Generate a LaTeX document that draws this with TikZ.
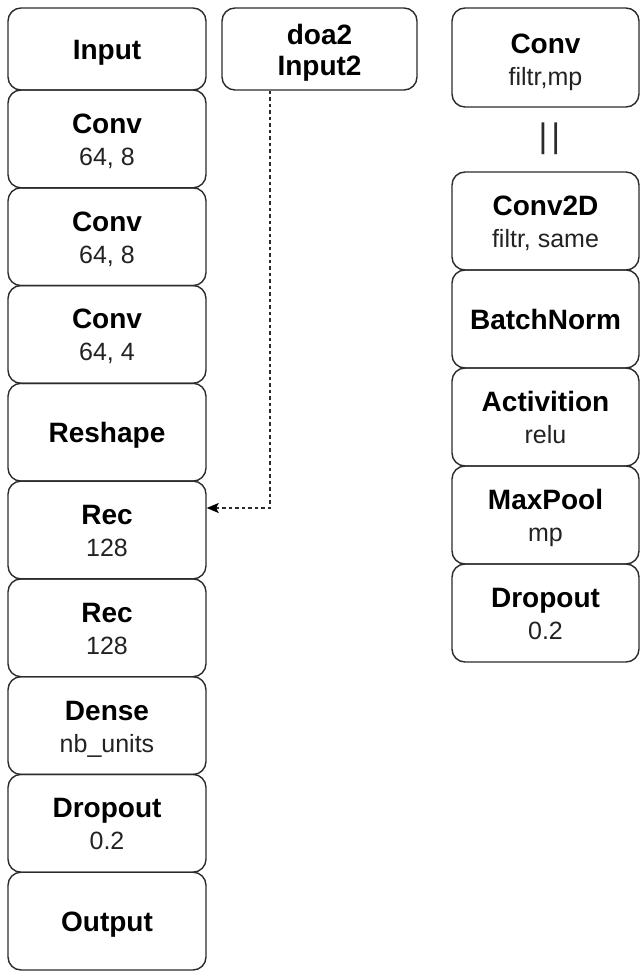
\documentclass[tikz,border=0pt]{standalone}
\usepackage{fontspec}
\setmainfont{Liberation Sans}
\usetikzlibrary{arrows.meta}
\definecolor{edge}{HTML}{2B2B2B}
\definecolor{subtext}{HTML}{222222}
\tikzset{
  layer/.style={draw=edge, line width=1.4pt, rounded corners=13pt, inner sep=0pt},
  leftcol/.style={layer, minimum width=198pt},
  rightcol/.style={layer, minimum width=187pt},
  title/.style={font=\fontsize{28}{32}\selectfont\bfseries, inner sep=0pt, anchor=base},
  sub/.style={font=\fontsize{25}{30}\selectfont, text=subtext, inner sep=0pt, anchor=base},
  link/.style={draw=edge, line width=1.3pt, dash pattern=on 3.5pt off 3pt,
    -{Stealth[length=12pt,width=10pt,inset=2.5pt,color=black]}},
}
\begin{document}
\begin{tikzpicture}[x=1pt,y=-1pt]
\useasboundingbox (0,0) rectangle (640,972);

% ---- main network (left column) ----
\node[leftcol, minimum height=82pt]   (input)   at (107,49)    {};
\node[leftcol, minimum height=97.8pt] (conv1)   at (107,138.9) {};
\node[leftcol, minimum height=97.8pt] (conv2)   at (107,236.7) {};
\node[leftcol, minimum height=97.8pt] (conv3)   at (107,334.4) {};
\node[leftcol, minimum height=97.8pt] (reshape) at (107,432.2) {};
\node[leftcol, minimum height=97.8pt] (rec1)    at (107,530)   {};
\node[leftcol, minimum height=97.8pt] (rec2)    at (107,627.8) {};
\node[leftcol, minimum height=97.8pt] (dense)   at (107,725.6) {};
\node[leftcol, minimum height=97.8pt] (drop)    at (107,823.3) {};
\node[leftcol, minimum height=97.8pt] (output)  at (107,921.1) {};

\node[title] (input-t)   at ([yshift=-10pt]input.center)   {Input};
\node[title] (conv1-t)   at ([yshift=5.5pt]conv1.center)   {Conv};
\node[sub]   (conv1-s)   at ([yshift=-26.5pt]conv1.center) {64, 8};
\node[title] (conv2-t)   at ([yshift=5.5pt]conv2.center)   {Conv};
\node[sub]   (conv2-s)   at ([yshift=-26.5pt]conv2.center) {64, 8};
\node[title] (conv3-t)   at ([yshift=5.5pt]conv3.center)   {Conv};
\node[sub]   (conv3-s)   at ([yshift=-26.5pt]conv3.center) {64, 4};
\node[title] (reshape-t) at ([yshift=-10pt]reshape.center) {Reshape};
\node[title] (rec1-t)    at ([yshift=5.5pt]rec1.center)    {Rec};
\node[sub]   (rec1-s)    at ([yshift=-26.5pt]rec1.center)  {128};
\node[title] (rec2-t)    at ([yshift=5.5pt]rec2.center)    {Rec};
\node[sub]   (rec2-s)    at ([yshift=-26.5pt]rec2.center)  {128};
\node[title] (dense-t)   at ([yshift=5.5pt]dense.center)   {Dense};
\node[sub]   (dense-s)   at ([yshift=-26.5pt]dense.center) {nb\_units};
\node[title] (drop-t)    at ([yshift=5.5pt]drop.center)    {Dropout};
\node[sub]   (drop-s)    at ([yshift=-26.5pt]drop.center)  {0.2};
\node[title] (output-t)  at ([yshift=-10pt]output.center)  {Output};

% ---- second input ----
\node[layer, minimum width=195pt, minimum height=82pt] (doa) at (319.5,49) {};
\node[title] (doa-t1) at ([yshift=5pt]doa.center)   {doa2};
\node[title] (doa-t2) at ([yshift=-26pt]doa.center) {Input2};

% ---- conv block and its expansion (right column) ----
\node[rightcol, minimum height=99pt] (cblock)  at (545.5,57.5) {};
\node[title] (cblock-t) at ([yshift=4.5pt]cblock.center)   {Conv};
\node[sub]   (cblock-s) at ([yshift=-27.5pt]cblock.center) {filtr,mp};

\node[font=\fontsize{34}{34}\selectfont, text=edge, inner sep=0pt] (equiv) at (549.5,139) {|\kern4pt|};

\node[rightcol, minimum height=98pt] (c2d)   at (545.5,221) {};
\node[rightcol, minimum height=98pt] (bn)    at (545.5,319) {};
\node[rightcol, minimum height=98pt] (act)   at (545.5,417) {};
\node[rightcol, minimum height=98pt] (mpool) at (545.5,515) {};
\node[rightcol, minimum height=98pt] (rdrop) at (545.5,613) {};

\node[title] (c2d-t)   at ([yshift=5.5pt]c2d.center)     {Conv2D};
\node[sub]   (c2d-s)   at ([yshift=-26.5pt]c2d.center)   {filtr, same};
\node[title] (bn-t)    at ([yshift=-10pt]bn.center)      {BatchNorm};
\node[title] (act-t)   at ([yshift=5.5pt]act.center)     {Activition};
\node[sub]   (act-s)   at ([yshift=-26.5pt]act.center)   {relu};
\node[title] (mpool-t) at ([yshift=5.5pt]mpool.center)   {MaxPool};
\node[sub]   (mpool-s) at ([yshift=-26.5pt]mpool.center) {mp};
\node[title] (rdrop-t) at ([yshift=5.5pt]rdrop.center)   {Dropout};
\node[sub]   (rdrop-s) at ([yshift=-26.5pt]rdrop.center) {0.2};

% ---- second input feeds the first recurrent layer ----
\draw[link] ([xshift=-49.5pt]doa.south) |- ([yshift=22pt]rec1.east);
\end{tikzpicture}
\end{document}
